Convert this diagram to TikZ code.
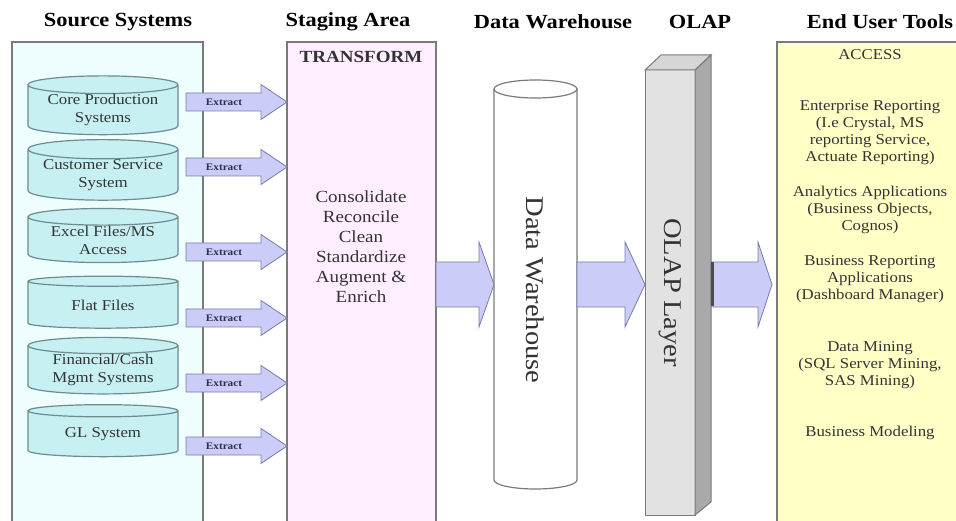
\documentclass[tikz,border=0pt]{standalone}
\usepackage{fontspec}
\setmainfont{Liberation Serif}[FakeStretch=1.12]
\usepackage{tikz}
\usetikzlibrary{shapes.geometric,calc}

\definecolor{srcfill}{HTML}{EEFEFE}
\definecolor{cylfill}{HTML}{C6F0F2}
\definecolor{cyledge}{HTML}{6E8C8E}
\definecolor{stagefill}{HTML}{FFEEFF}
\definecolor{arrfill}{HTML}{CCCCF8}
\definecolor{arredge}{HTML}{7A7AA6}
\definecolor{toolfill}{HTML}{FFFFC6}
\definecolor{olapfront}{HTML}{E2E2E2}
\definecolor{olapside}{HTML}{A9A9A9}
\definecolor{olaptop}{HTML}{D6D6D6}
\definecolor{edge}{HTML}{7A7A7A}
\definecolor{txtgray}{HTML}{333333}
\definecolor{navytxt}{HTML}{2E2E50}

% block arrow: tail, tip, body half, head half, head length
\newcommand{\blockarrow}[5]{%
  \draw[fatarrow] ($(#1)+(0,-#3)$) -- ($(#2)+(-#5,-#3)$) -- ($(#2)+(-#5,-#4)$) -- (#2) -- ($(#2)+(-#5,#4)$) -- ($(#2)+(-#5,#3)$) -- ($(#1)+(0,#3)$) -- cycle;}

\begin{document}
\begin{tikzpicture}[x=1pt,y=1pt,yscale=-1,
  title/.style={font=\fontsize{20}{24}\selectfont\bfseries, inner sep=0pt},
  panel/.style={draw=edge, line width=1.2pt, inner sep=0pt, outer sep=0pt, anchor=north west},
  srccyl/.style={cylinder, shape border rotate=90, aspect=0.16, draw=cyledge, line width=1.2pt, fill=cylfill, minimum width=150, minimum height=52, inner sep=0pt, outer sep=0pt, text=txtgray, font=\fontsize{15}{18}\selectfont, align=center},
  extract/.style={font=\fontsize{10}{12}\selectfont\bfseries, text=navytxt, inner sep=0pt},
  fatarrow/.style={draw=arredge, line width=0.8pt, fill=arrfill},
  tooltxt/.style={font=\fontsize{15}{17}\selectfont, align=center, text=txtgray, inner sep=0pt},
  bigtxt/.style={rotate=-90, font=\fontsize{25.5}{30}\selectfont, text=txtgray, inner sep=0pt}]
    \useasboundingbox (0,0) rectangle (956,521);

    % Titles
    \node[title] (tsrc) at (118,22) {Source Systems};
    \node[title] (tstage) at (348,22) {Staging Area};
    \node[title] (tdw) at (553,22) {Data Warehouse};
    \node[title] (tolap) at (700,22) {OLAP};
    \node[title] (ttools) at (880,22) {End User Tools};

    %Shape: Rectangle [source systems]
    \node[panel, fill=srcfill, minimum width=191, minimum height=485] (src) at (12,42) {};
    %Shape: Rectangle [staging area]
    \node[panel, fill=stagefill, minimum width=149, minimum height=485] (stage) at (287,42) {};
    %Shape: Rectangle [end user tools]
    \node[panel, fill=toolfill, minimum width=190, minimum height=485] (tools) at (777,42) {};

    %Shape: Can
    \node[srccyl] (cps) at (103,110) {Core Production\\Systems};
    %Shape: Can
    \node[srccyl] (css) at (103,175) {Customer Service\\System};
    %Shape: Can
    \node[srccyl] (xls) at (103,240) {Excel Files/MS\\Access};
    %Shape: Can
    \node[srccyl] (flat) at (103,305) {Flat Files};
    %Shape: Can
    \node[srccyl] (fin) at (103,370) {Financial/Cash\\Mgmt Systems};
    %Shape: Can
    \node[srccyl] (gl) at (103,434) {GL System};

    %Right Arrow
    \coordinate (e1) at (186,102);
    \coordinate (e1tip) at (stage.west |- e1);
    \blockarrow{e1}{e1tip}{9}{17.5}{26}
    \node[extract] (x1) at (224,102) {Extract};
    %Right Arrow
    \coordinate (e2) at (186,167);
    \coordinate (e2tip) at (stage.west |- e2);
    \blockarrow{e2}{e2tip}{9}{17.5}{26}
    \node[extract] (x2) at (224,167) {Extract};
    %Right Arrow
    \coordinate (e3) at (186,252);
    \coordinate (e3tip) at (stage.west |- e3);
    \blockarrow{e3}{e3tip}{9}{17.5}{26}
    \node[extract] (x3) at (224,252) {Extract};
    %Right Arrow
    \coordinate (e4) at (186,318);
    \coordinate (e4tip) at (stage.west |- e4);
    \blockarrow{e4}{e4tip}{9}{17.5}{26}
    \node[extract] (x4) at (224,318) {Extract};
    %Right Arrow
    \coordinate (e5) at (186,383);
    \coordinate (e5tip) at (stage.west |- e5);
    \blockarrow{e5}{e5tip}{9}{17.5}{26}
    \node[extract] (x5) at (224,383) {Extract};
    %Right Arrow
    \coordinate (e6) at (186,446);
    \coordinate (e6tip) at (stage.west |- e6);
    \blockarrow{e6}{e6tip}{9}{17.5}{26}
    \node[extract] (x6) at (224,446) {Extract};

    % Text Node
    \node[font=\fontsize{17}{20}\selectfont\bfseries, text=txtgray, inner sep=0pt] (trans) at (361,57) {TRANSFORM};
    % Text Node
    \node[font=\fontsize{17}{20}\selectfont, text=txtgray, align=center, inner sep=0pt] (steps) at (361,247) {Consolidate\\Reconcile\\Clean\\Standardize\\Augment \&\\Enrich};

    %Shape: Can [data warehouse]
    \node[inner sep=0pt, outer sep=0pt, minimum width=83, minimum height=391] (dw) at (535.5,284.5) {};
    \draw[draw=edge, line width=1.2pt, fill=white] (dw.north west) -- (dw.south west) arc[start angle=180, end angle=0, x radius=41.5, y radius=9] -- (dw.north east) arc[start angle=0, end angle=-180, x radius=41.5, y radius=9] -- cycle;
    \draw[draw=edge, line width=1.2pt] (dw.north west) arc[start angle=180, end angle=0, x radius=41.5, y radius=9];
    \node[bigtxt] (dwtxt) at (535.5,290) {Data Warehouse};

    %Shape: Cube [olap layer]
    \node[panel, line width=1pt, fill=olapfront, minimum width=50, minimum height=445] (olap) at (645,70) {};
    \draw[draw=edge, line width=1pt, fill=olaptop] (olap.north west) -- ++(16,-15) -- ++(50,0) -- (olap.north east) -- cycle;
    \draw[draw=edge, line width=1pt, fill=olapside] (olap.north east) -- ++(16,-15) -- ++(0,447) -- (olap.south east) -- cycle;
    \node[bigtxt] (olaptxt) at (670,292.5) {OLAP Layer};

    %Right Arrow
    \blockarrow{stage.east}{dw.west}{22.5}{42.5}{15}
    %Right Arrow
    \coordinate (a2tip) at (olap.west |- dw.east);
    \blockarrow{dw.east}{a2tip}{22.5}{42.5}{20}
    %Right Arrow
    \coordinate (a3) at ($(olap.east |- dw.east)+(16,0)$);
    \coordinate (a3tip) at ($(tools.west |- dw.east)+(-5,0)$);
    \blockarrow{a3}{a3tip}{22.5}{42.5}{14}
    \draw[line width=3pt, black!70] ($(a3)+(1.5,-22)$) -- ($(a3)+(1.5,22)$);

    % Text Node
    \node[tooltxt] (acc) at (870,55) {ACCESS};
    % Text Node
    \node[tooltxt] (ent) at (870,132.5) {Enterprise Reporting\\(I.e Crystal, MS\\reporting Service,\\Actuate Reporting)};
    % Text Node
    \node[tooltxt] (ana) at (870,209.5) {Analytics Applications\\(Business Objects,\\Cognos)};
    % Text Node
    \node[tooltxt] (bra) at (870,279.5) {Business Reporting\\Applications\\(Dashboard Manager)};
    % Text Node
    \node[tooltxt] (dm) at (870,365) {Data Mining\\(SQL Server Mining,\\SAS Mining)};
    % Text Node
    \node[tooltxt] (bm) at (870,433) {Business Modeling};
\end{tikzpicture}
\end{document}
